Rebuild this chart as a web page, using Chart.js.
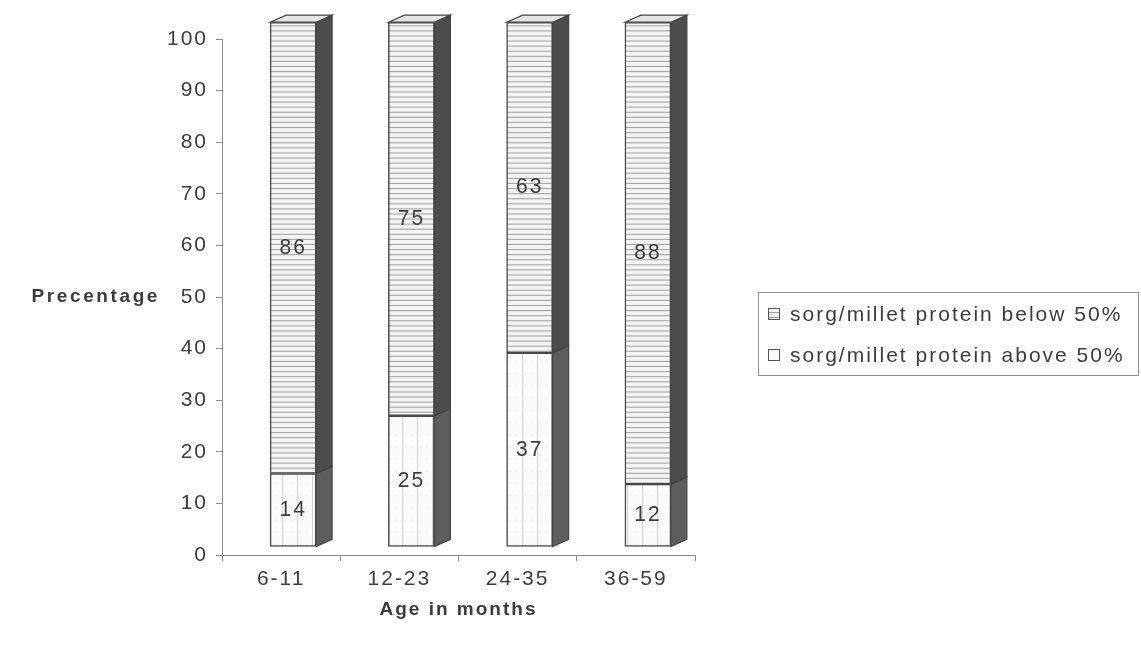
<!DOCTYPE html>
<html>
<head>
<meta charset="utf-8">
<script src="https://cdn.jsdelivr.net/npm/chart.js@4"></script>
<style>
  html, body { margin: 0; padding: 0; background: #fff; }
  #wrap { width: 1141px; height: 645px; }
</style>
</head>
<body>
<div id="wrap"><canvas id="chart" width="1141" height="645"></canvas></div>
<script>
const ageGroups = ["6-11", "12-23", "24-35", "36-59"];
const aboveHalf = [14, 25, 37, 12];   // sorg/millet protein above 50%
const belowHalf = [86, 75, 63, 88];   // sorg/millet protein below 50%
const seriesNames = ["sorg/millet protein above 50%", "sorg/millet protein below 50%"];
const yMin = 0, yMax = 100, yStep = 10;

const FONT = "'Liberation Sans', Arial, sans-serif";
const TEXT = "#3c3c3c";
const AXIS = "#8a8a8a";

// 3d look: front faces sit a bit right of / above the axis, side + top faces drawn by hand
const DX = 16, DY = -7;
const SHIFT_X = 12, LIFT = 8, STRETCH = 1.017;

function makePattern(w, h, draw) {
  const c = document.createElement("canvas");
  c.width = w; c.height = h;
  const g = c.getContext("2d");
  draw(g);
  return g.createPattern(c, "repeat");
}

// horizontal lines
const belowPattern = makePattern(8, 5, g => {
  g.fillStyle = "#f3f3f3"; g.fillRect(0, 0, 8, 5);
  g.fillStyle = "#a2a2a2"; g.fillRect(0, 2, 8, 1);
});
// faint grid
const abovePattern = makePattern(15, 12, g => {
  g.fillStyle = "#fbfbfb"; g.fillRect(0, 0, 15, 12);
  g.fillStyle = "#d2d2d2"; g.fillRect(0, 0, 1, 12);
  g.fillStyle = "#e6e6e6"; g.fillRect(3, 0, 1, 1); g.fillRect(9, 0, 1, 1);
});

const sideColors = ["#5e5e5e", "#4c4c4c"];

const spacing = {
  id: "spacing",
  beforeUpdate(chart) { chart.ctx.letterSpacing = "2px"; }
};

const shift = {
  id: "shift",
  beforeDatasetsDraw(chart) {
    const ctx = chart.ctx;
    const base = chart.chartArea.bottom;
    ctx.save();
    ctx.translate(SHIFT_X, base - LIFT);
    ctx.scale(1, STRETCH);
    ctx.translate(0, -base);
  },
  afterDatasetsDraw(chart) {
    const ctx = chart.ctx;
    const last = chart.data.datasets.length - 1;
    chart.data.datasets.forEach((ds, di) => {
      const meta = chart.getDatasetMeta(di);
      meta.data.forEach((bar, i) => {
        const r = bar.x + bar.width / 2, l = bar.x - bar.width / 2;
        const top = Math.min(bar.y, bar.base), bot = Math.max(bar.y, bar.base);
        // side
        ctx.beginPath();
        ctx.moveTo(r, top); ctx.lineTo(r + DX, top + DY);
        ctx.lineTo(r + DX, bot + DY); ctx.lineTo(r, bot); ctx.closePath();
        ctx.fillStyle = sideColors[di]; ctx.fill();
        ctx.strokeStyle = "#444"; ctx.lineWidth = 1.2; ctx.stroke();
        // top
        if (di === last) {
          ctx.beginPath();
          ctx.moveTo(l, top); ctx.lineTo(l + DX, top + DY);
          ctx.lineTo(r + DX, top + DY); ctx.lineTo(r, top); ctx.closePath();
          ctx.fillStyle = "#e4e4e4"; ctx.fill();
          ctx.stroke();
        }
        // value
        ctx.font = "21px " + FONT;
        ctx.fillStyle = TEXT;
        ctx.textAlign = "center";
        ctx.textBaseline = "middle";
        ctx.fillText(ds.data[i], bar.x, (top + bot) / 2);
      });
    });
    ctx.restore();
  }
};

const extras = {
  id: "extras",
  afterDraw(chart) {
    const ctx = chart.ctx;
    const y = chart.scales.y;
    ctx.save();
    // y title, horizontal
    ctx.font = "bold 19px " + FONT;
    ctx.letterSpacing = "2.6px";
    ctx.fillStyle = TEXT;
    ctx.textAlign = "right";
    ctx.textBaseline = "middle";
    ctx.fillText("Precentage", 160, y.getPixelForValue(50));

    // legend box
    ctx.letterSpacing = "2px";
    ctx.strokeStyle = "#8f8f8f";
    ctx.lineWidth = 1;
    ctx.strokeRect(758.5, 292.5, 380, 83);
    const rows = [
      { name: seriesNames[1], fill: belowPattern, y: 314 },
      { name: seriesNames[0], fill: abovePattern, y: 355 }
    ];
    rows.forEach(row => {
      ctx.fillStyle = row.fill;
      ctx.fillRect(768, row.y - 6, 12, 12);
      ctx.strokeStyle = "#555";
      ctx.strokeRect(768.5, row.y - 5.5, 11, 11);
      ctx.fillStyle = TEXT;
      ctx.font = "21px " + FONT;
      ctx.textAlign = "left";
      ctx.fillText(row.name, 790, row.y + 1);
    });
    ctx.restore();
  }
};

new Chart(document.getElementById("chart"), {
  type: "bar",
  data: {
    labels: ageGroups,
    datasets: [
      { label: seriesNames[0], data: aboveHalf, backgroundColor: abovePattern,
        borderColor: "#484848", borderWidth: 1.5, borderSkipped: false },
      { label: seriesNames[1], data: belowHalf, backgroundColor: belowPattern,
        borderColor: "#484848", borderWidth: 1.5, borderSkipped: false }
    ]
  },
  options: {
    responsive: false,
    animation: false,
    layout: { padding: { left: 0, top: 39, right: 446, bottom: 0 } },
    datasets: { bar: { barThickness: 46, clip: false } },
    plugins: { legend: { display: false }, tooltip: { enabled: false } },
    scales: {
      x: {
        stacked: true,
        grid: { offset: true, drawOnChartArea: false, tickLength: 6, color: AXIS },
        border: { color: AXIS },
        ticks: { font: { family: FONT, size: 21 }, color: TEXT, padding: 6 },
        title: {
          display: true, text: "Age in months", color: TEXT,
          font: { family: FONT, size: 19, weight: "bold" },
          padding: { top: 4, bottom: 24 }
        },
        afterFit(s) { s.height = 90; }
      },
      y: {
        stacked: true, min: yMin, max: yMax,
        grid: { drawOnChartArea: false, tickLength: 6, color: AXIS },
        border: { color: AXIS },
        ticks: { stepSize: yStep, font: { family: FONT, size: 21 }, color: TEXT, padding: 8 },
        afterFit(s) { s.width = 222; }
      }
    }
  },
  plugins: [spacing, shift, extras]
});
</script>
</body>
</html>
